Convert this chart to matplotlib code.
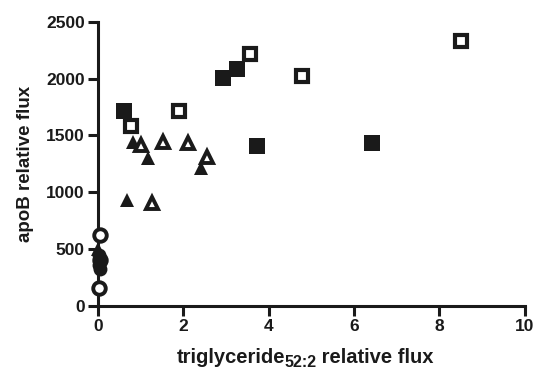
import matplotlib
matplotlib.use("Agg")
import matplotlib.pyplot as plt

plt.rcParams['font.family'] = ['Liberation Sans', 'DejaVu Sans']
plt.rcParams['font.weight'] = 'bold'

# filled squares
fsq_x = [0.61, 2.93, 3.26, 3.72, 6.42]
fsq_y = [1716, 2010, 2086, 1408, 1435]
# open squares
osq_x = [0.77, 1.90, 3.56, 4.78, 8.50]
osq_y = [1585, 1716, 2218, 2025, 2333]
# filled triangles
ftr_x = [0.82, 1.17, 2.41, 0.68, 0.0]
ftr_y = [1443, 1302, 1214, 932, 500]
# open triangles
otr_x = [1.00, 1.52, 2.11, 2.55, 1.26]
otr_y = [1417, 1443, 1435, 1311, 905]
# filled circles
fci_x = [0.03, 0.05, 0.02, 0.04]
fci_y = [450, 400, 360, 320]
# open circles
oci_x = [0.05, 0.04, 0.03]
oci_y = [620, 400, 160]

ink = '#1a1a1a'
fig = plt.figure(figsize=(5.36, 3.71), dpi=100)
ax = fig.add_axes([0.183, 0.176, 0.796, 0.765])

k = dict(clip_on=False, linestyle='none', color=ink, zorder=3)
ax.plot(fsq_x, fsq_y, marker='s', markersize=11, markerfacecolor=ink,
        markeredgewidth=0, **k)
ax.plot(osq_x, osq_y, marker='s', markersize=9, markerfacecolor='white',
        markeredgecolor=ink, markeredgewidth=3, **k)
ax.plot(ftr_x, ftr_y, marker='^', markersize=10, markerfacecolor=ink,
        markeredgewidth=0, **k)
ax.plot(otr_x, otr_y, marker='^', markersize=9, markerfacecolor='white',
        markeredgecolor=ink, markeredgewidth=2.8, **k)
ax.plot(oci_x, oci_y, marker='o', markersize=9, markerfacecolor='white',
        markeredgecolor=ink, markeredgewidth=2.8, **k)
ax.plot(fci_x, fci_y, marker='o', markersize=10, markerfacecolor=ink,
        markeredgewidth=0, **k)

ax.set_xlim(0, 10)
ax.set_ylim(0, 2500)
ax.set_xticks([0, 2, 4, 6, 8, 10])
ax.set_yticks([0, 500, 1000, 1500, 2000, 2500])

for s in ['top', 'right']:
    ax.spines[s].set_visible(False)
for s in ['left', 'bottom']:
    ax.spines[s].set_linewidth(2.2)
    ax.spines[s].set_color(ink)
ax.tick_params(width=2.2, length=7, labelsize=12.5, color=ink, pad=2.5,
               labelcolor=ink)
for lab in ax.get_xticklabels() + ax.get_yticklabels():
    lab.set_fontweight('bold')

ax.set_ylabel('apoB relative flux', fontsize=13.5, fontweight='bold',
              labelpad=9, color=ink)

# x label with a plain-text subscript, pieces laid out side by side
fig.canvas.draw()
r = fig.canvas.get_renderer()
W, H = fig.bbox.width, fig.bbox.height
x0, base = 177, 8
t1 = fig.text(x0 / W, base / H, 'triglyceride', fontsize=14.5,
              fontweight='bold', color=ink, va='baseline')
x1 = t1.get_window_extent(r).x1 - 1
t2 = fig.text(x1 / W, (base - 4) / H, '52:2', fontsize=11.5,
              fontweight='bold', color=ink, va='baseline')
x2 = t2.get_window_extent(r).x1 - 1
fig.text(x2 / W, base / H, ' relative flux', fontsize=14.5,
         fontweight='bold', color=ink, va='baseline')

fig.savefig('out.png', dpi=100)
